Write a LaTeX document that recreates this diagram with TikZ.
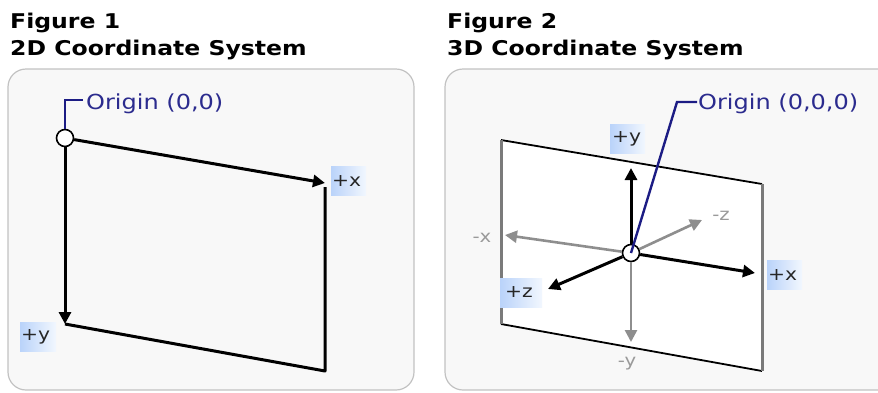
\documentclass[tikz,border=0pt]{standalone}
\usepackage{fontspec}
\setmainfont{DejaVu Sans}[FakeStretch=1.16]
\usetikzlibrary{arrows.meta}

\definecolor{panelfill}{HTML}{F8F8F8}
\definecolor{panelline}{HTML}{C2C2C2}
\definecolor{navytext}{HTML}{2B2B8E}
\definecolor{leadercol}{HTML}{1C1C84}
\definecolor{axisgray}{HTML}{8E8E8E}
\definecolor{labelgray}{HTML}{9A9A9A}
\definecolor{edgegray}{HTML}{7A7A7A}
\definecolor{hlA}{HTML}{BAD3FA}
\definecolor{hlB}{HTML}{F2F7FE}

% light blue tag background, fading from left to right
\pgfdeclarehorizontalshading{tagshade}{100bp}{color(0bp)=(hlA); color(25bp)=(hlA); color(75bp)=(hlB); color(100bp)=(hlB)}

\begin{document}
\begin{tikzpicture}[x=1pt, y=-1pt,
  panel/.style={draw=panelline, fill=panelfill, line width=1.2pt, rounded corners=18pt},
  figtitle/.style={anchor=base west, inner sep=0pt,
    font=\fontsize{20.3}{27}\selectfont\bfseries},
  origintext/.style={anchor=base west, inner sep=0pt, text=navytext,
    font=\fontsize{20.7}{24}\selectfont},
  leader/.style={draw=leadercol, line width=2.4pt},
  axisblack/.style={draw=black, line width=3pt, -{Triangle[length=12pt,width=12pt]}},
  axisgrey/.style={draw=axisgray, line width=2.6pt, -{Triangle[length=12pt,width=12pt]}},
  edge/.style={draw=black, line width=3pt, line join=round},
  thinedge/.style={draw=black, line width=1.8pt},
  sideedge/.style={draw=edgegray, line width=3pt},
  hub/.style={circle, draw=black, fill=white, line width=1.6pt, minimum size=17pt, inner sep=0pt},
  hl/.style={shading=tagshade, anchor=west, inner ysep=0pt,
    minimum height=29pt, align=left, text=black!85,
    font=\fontsize{17.5}{20}\selectfont},
  greylabel/.style={text=labelgray, inner sep=0pt, font=\fontsize{17}{20}\selectfont}
]
\useasboundingbox (0,0) rectangle (878,392);

% ---------- titles ----------
\node[figtitle] (t1a) at (10,28) {Figure 1};
\node[figtitle] (t1b) at (10,55) {2D Coordinate System};
\node[figtitle] (t2a) at (447,28) {Figure 2};
\node[figtitle] (t2b) at (447,55) {3D Coordinate System};

% ---------- panels ----------
\path[panel] (8,69) rectangle (414,390);
\path[panel] (445,69) rectangle (900,390);

% ---------- 2D system ----------
\node[hub] (o1) at (65,138) {};
\coordinate (x1) at (325,183);
\coordinate (y1) at (65,324);
\coordinate (r1) at (325,187);
\coordinate (c1) at (325,371);
\draw[edge] (y1) -- (c1) -- (r1);
\draw[axisblack] (o1) -- (x1);
\draw[axisblack] (o1) -- (y1);

\coordinate (k1) at (65,100);
\node[origintext] (lo1) at (86,109) {Origin (0,0)};
\draw[leader] (o1.north) -- (k1) -- (83,100);

\node[hl, inner xsep=1pt, text width=33pt] (px1) at (331,181) {+x};
\node[hl, inner xsep=1pt, text width=34pt] (py1) at (20,336.5) {+y};

% ---------- 3D system ----------
\coordinate (p1) at (501,140);
\coordinate (p2) at (762,184);
\coordinate (p3) at (762,371);
\coordinate (p4) at (501,324);
\fill[white] (p1) -- (p2) -- (p3) -- (p4) -- cycle;
\draw[thinedge] (p1) -- (p2);
\draw[thinedge] (p4) -- (p3);
\draw[sideedge] (p1) -- (p4);
\draw[sideedge] (p2) -- (p3);

\node[hub] (o2) at (631,253) {};
\coordinate (xp) at (755,273);
\coordinate (xm) at (505,235);
\coordinate (yp) at (631,168);
\coordinate (ym) at (631,342);
\coordinate (zp) at (548,289);
\coordinate (zm) at (702,220);

\draw[axisgrey] (o2) -- (xm);
\draw[axisgrey] (o2) -- (zm);
\draw[axisgrey] (o2) -- (ym);
\draw[axisblack] (o2) -- (yp);
\draw[axisblack] (o2) -- (xp);
\draw[axisblack] (o2) -- (zp);

\coordinate (k2) at (677,102);
\draw[leader] (o2.center) -- (k2) -- (697,102);
\node[origintext] (lo2) at (698,109) {Origin (0,0,0)};

\node[hl, inner xsep=2pt, text width=31pt] (py2) at (610,139) {+y};
\node[hl, inner xsep=1pt, text width=33pt] (px2) at (767,275) {+x};
\node[hl, inner xsep=5pt, text width=32pt] (pz2) at (500,292.5) {+z};

\node[greylabel] (mx) at (482,238) {-x};
\node[greylabel] (mz) at (721,216) {-z};
\node[greylabel] (my) at (627,364) {-y};
\end{tikzpicture}
\end{document}
